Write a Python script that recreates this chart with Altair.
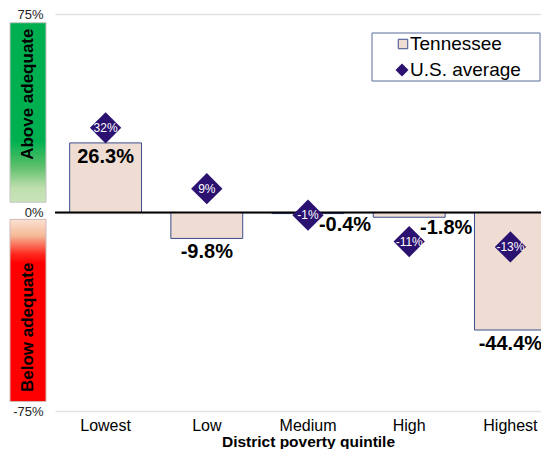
import altair as alt
import pandas as pd

categories = ["Lowest", "Low", "Medium", "High", "Highest"]
tennessee = [26.3, -9.8, -0.4, -1.8, -44.4]
us_average = [32, 9, -1, -11, -13]
tn_labels = ["26.3%", "-9.8%", "-0.4%", "-1.8%", "-44.4%"]
us_labels = ["32%", "9%", "-1%", "-11%", "-13%"]
shifted = [False, False, True, True, False]
y_ticks = [-75, 0, 75]
zones = ["Above adequate", "Below adequate"]
zone_from = [3.9, -2.6]
zone_to = [71.7, -71.4]
legend_labels = ["Tennessee", "U.S. average"]

FONT = "Liberation Sans"
BAR_FILL = "#EFDDD3"
BAR_STROKE = "#3B4E8C"
DIAMOND = "#2B1170"

df = pd.DataFrame({
    "cat": categories, "tn": tennessee, "us": us_average,
    "tn_label": tn_labels, "us_label": us_labels, "shifted": shifted,
})
zone_df = pd.DataFrame({"zone": zones, "from": zone_from, "to": zone_to})
zero_df = pd.DataFrame({"v": [0]})
one = pd.DataFrame({"a": [0]})

x_enc = alt.X(
    "cat:N", sort=categories,
    scale=alt.Scale(range=[0, 506], paddingInner=0.29, paddingOuter=0.145),
    axis=alt.Axis(title="District poverty quintile", labelAngle=0, labelFontSize=16,
                  labelColor="black", labelPadding=6, titleFontSize=15.5,
                  titleFontWeight="bold", titleColor="black", titlePadding=1,
                  domain=False, ticks=False, grid=False),
)
y_scale = alt.Scale(domain=[-75, 75], nice=False)

base = alt.Chart(df)

bars = base.mark_bar(fill=BAR_FILL, stroke=BAR_STROKE, strokeWidth=1).encode(
    x=x_enc,
    y=alt.Y("tn:Q", scale=y_scale,
            axis=alt.Axis(values=y_ticks, labelExpr="datum.value + '%'", labelFontSize=13,
                          labelColor="#222", labelPadding=12, domain=False, ticks=False,
                          grid=True, gridColor="#e2e2e2", gridWidth=1.5, title=None)),
    y2=alt.datum(0),
)

zero = alt.Chart(zero_df).mark_rule(color="black", strokeWidth=2).encode(
    y=alt.Y("v:Q", scale=y_scale))

labels_a = base.transform_filter("!datum.shifted").mark_text(
    fontSize=20, fontWeight="bold", color="black", baseline="middle", dy=14).encode(
    x=alt.X("cat:N", sort=categories), y=alt.Y("tn:Q", scale=y_scale), text="tn_label:N")
labels_b = base.transform_filter("datum.shifted").mark_text(
    fontSize=20, fontWeight="bold", color="black", baseline="middle", dy=11, dx=37).encode(
    x=alt.X("cat:N", sort=categories), y=alt.Y("tn:Q", scale=y_scale), text="tn_label:N")

diamonds = base.mark_point(shape="diamond", filled=True, size=980, color=DIAMOND, opacity=1).encode(
    x=alt.X("cat:N", sort=categories), y=alt.Y("us:Q", scale=y_scale))
diamond_text = base.mark_text(color="white", fontSize=12, baseline="middle").encode(
    x=alt.X("cat:N", sort=categories), y=alt.Y("us:Q", scale=y_scale), text="us_label:N")

green = alt.Gradient(gradient="linear", x1=0, y1=0, x2=0, y2=1, stops=[
    alt.GradientStop(color="#00B050", offset=0),
    alt.GradientStop(color="#00B050", offset=0.66),
    alt.GradientStop(color="#5CBF6A", offset=0.8),
    alt.GradientStop(color="#BFDFAE", offset=0.92),
    alt.GradientStop(color="#C8E4B8", offset=1),
])
red = alt.Gradient(gradient="linear", x1=0, y1=0, x2=0, y2=1, stops=[
    alt.GradientStop(color="#FBE1D2", offset=0),
    alt.GradientStop(color="#F5B896", offset=0.09),
    alt.GradientStop(color="#FF2A20", offset=0.19),
    alt.GradientStop(color="#FF0000", offset=0.24),
    alt.GradientStop(color="#FF0000", offset=1),
])

zone_base = alt.Chart(zone_df)
zone_green = zone_base.transform_filter("datum.to > 0").mark_rect(
    fill=green, stroke="#c4c4c4", strokeWidth=1).encode(
    x=alt.value(-45), x2=alt.value(-9), y=alt.Y("from:Q", scale=y_scale), y2="to:Q")
zone_red = zone_base.transform_filter("datum.to < 0").mark_rect(
    fill=red, stroke="#d0b8b8", strokeWidth=1).encode(
    x=alt.value(-45), x2=alt.value(-9), y=alt.Y("from:Q", scale=y_scale), y2="to:Q")
zone_text = zone_base.transform_calculate(
    pos="datum.to - (datum.to > 0 ? 27 : -28)").mark_text(
    angle=270, fontSize=17, fontWeight="bold", color="black", align="center",
    baseline="middle").encode(
    x=alt.value(-27), y=alt.Y("pos:Q", scale=y_scale), text="zone:N")

leg = alt.Chart(one)
leg_box = leg.mark_rect(fill="white", stroke="#5A6A9B", strokeWidth=1).encode(
    x=alt.value(317), x2=alt.value(485), y=alt.value(19), y2=alt.value(67))
leg_sq = leg.mark_point(shape="square", filled=True, fill=BAR_FILL, stroke=BAR_STROKE,
                        strokeWidth=1, size=90, opacity=1).encode(
    x=alt.value(348), y=alt.value(30))
leg_t1 = leg.mark_text(text=legend_labels[0], align="left", baseline="middle",
                       fontSize=19, color="black").encode(x=alt.value(355), y=alt.value(30))
leg_dm = leg.mark_point(shape="diamond", filled=True, color=DIAMOND, size=170,
                        opacity=1).encode(x=alt.value(347), y=alt.value(56))
leg_t2 = leg.mark_text(text=legend_labels[1], align="left", baseline="middle",
                       fontSize=19, color="black").encode(x=alt.value(355), y=alt.value(56))

chart = alt.layer(
    bars, zero, labels_a, labels_b, diamonds, diamond_text,
    zone_green, zone_red, zone_text,
    leg_box, leg_sq, leg_t1, leg_dm, leg_t2,
).properties(
    width=486, height=397,
    autosize=alt.AutoSizeParams(type="none"),
    padding={"left": 47, "top": 6, "right": 0, "bottom": 38},
).configure_view(strokeWidth=0).configure_axis(
    labelFont=FONT, titleFont=FONT
).configure_text(font=FONT)

chart.save("out.html", embed_options={"renderer": "svg", "actions": False})
